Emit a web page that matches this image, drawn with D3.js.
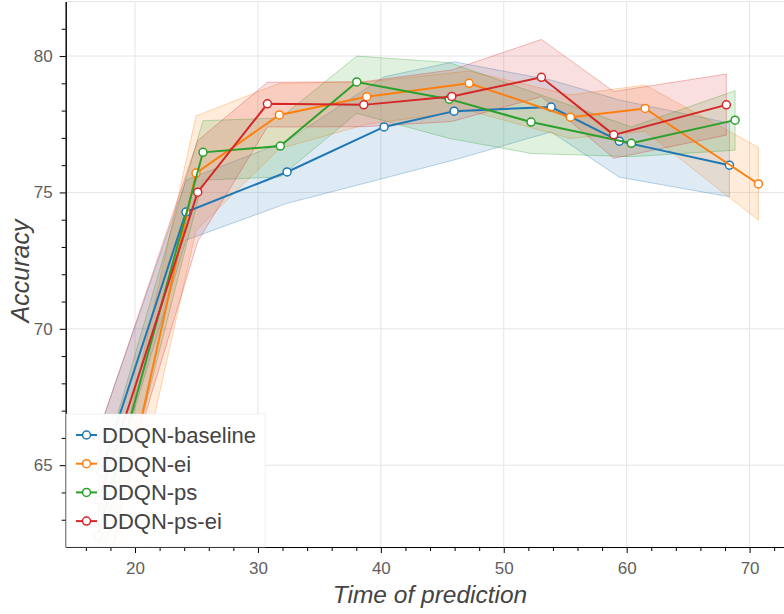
<!DOCTYPE html>
<html>
<head>
<meta charset="utf-8">
<script src="https://cdn.jsdelivr.net/npm/d3@7"></script>
<style>
  body { margin: 0; background: #fff; }
  svg { display: block; font-family: "Liberation Sans", Arial, sans-serif; }
</style>
</head>
<body>
<div id="chart"></div>
<script>
// series: x = time of prediction, y = mean accuracy, lo/hi = band
const names = ["DDQN-baseline", "DDQN-ei", "DDQN-ps", "DDQN-ps-ei"];
const colors = ["#1f77b4", "#ff7f0e", "#2ca02c", "#d62728"];

const baselineX = [17.23, 24.15, 32.37, 40.26, 45.96, 53.85, 59.40, 68.36];
const baselineY = [64.75, 74.28, 75.75, 77.40, 77.98, 78.13, 76.88, 76.00];
const baselineHi = [66.5, 75.45, 76.9, 79.24, 79.79, 79.12, 78.39, 77.54];
const baselineLo = [63.0, 73.25, 74.6, 75.52, 76.19, 77.22, 75.56, 74.84];

const eiX = [17.6, 24.96, 31.74, 38.85, 47.18, 55.42, 61.50, 70.72];
const eiY = [60.8, 75.71, 77.84, 78.51, 79.00, 77.76, 78.08, 75.31];
const eiHi = [62.8, 77.8, 79.0, 79.05, 79.45, 78.57, 78.94, 76.65];
const eiLo = [58.8, 73.6, 76.6, 77.5, 78.0, 76.98, 77.24, 73.98];

const psX = [17.0, 25.53, 31.82, 38.04, 45.57, 52.22, 60.38, 68.82];
const psY = [62.4, 76.47, 76.70, 79.05, 78.42, 77.58, 76.80, 77.65];
const psHi = [64.4, 77.63, 77.73, 80.0, 79.76, 78.7, 77.4, 78.73];
const psLo = [60.4, 75.45, 75.57, 77.9, 76.98, 76.43, 76.31, 76.55];

const psEiX = [17.03, 25.10, 30.77, 38.61, 45.77, 53.06, 58.95, 68.11];
const psEiY = [63.72, 75.01, 78.25, 78.21, 78.52, 79.22, 77.11, 78.21];
const psEiHi = [66.2, 76.9, 79.04, 79.06, 79.49, 80.61, 78.7, 79.34];
const psEiLo = [61.2, 73.2, 77.4, 77.41, 77.6, 78.51, 76.25, 77.1];

const xTicks = [20, 30, 40, 50, 60, 70];
const yTicks = [65, 70, 75, 80];

const series = [
  [baselineX, baselineY, baselineLo, baselineHi],
  [eiX, eiY, eiLo, eiHi],
  [psX, psY, psLo, psHi],
  [psEiX, psEiY, psEiLo, psEiHi]
].map(([xs, ys, lo, hi], k) => ({
  name: names[k],
  color: colors[k],
  values: xs.map((x, i) => ({ x, y: ys[i], lo: lo[i], hi: hi[i] }))
}));

const margin = { top: 1.5, right: 0, bottom: 67, left: 65.7 };
const width = 784 - margin.left - margin.right;
const height = 614 - margin.top - margin.bottom;

const svg = d3.select("#chart").append("svg")
  .attr("width", 784)
  .attr("height", 614);

const g = svg.append("g")
  .attr("transform", `translate(${margin.left},${margin.top})`);

const x = d3.scaleLinear().domain([14.36, 72.8]).range([0, width]);
const y = d3.scaleLinear().domain([62, 82]).range([height, 0]);

// grid
g.append("g")
  .selectAll("line")
  .data(xTicks)
  .join("line")
  .attr("x1", d => x(d)).attr("x2", d => x(d))
  .attr("y1", 0).attr("y2", height)
  .attr("stroke", "#e5e5e5");

g.append("g")
  .selectAll("line")
  .data(yTicks)
  .join("line")
  .attr("x1", 0).attr("x2", width)
  .attr("y1", d => y(d)).attr("y2", d => y(d))
  .attr("stroke", "#e5e5e5");

// frame outline (top)
g.append("line")
  .attr("x1", 0).attr("x2", width)
  .attr("y1", 0).attr("y2", 0)
  .attr("stroke", "#e5e5e5");

g.append("clipPath").attr("id", "clip")
  .append("rect").attr("width", width).attr("height", height);

const plot = g.append("g").attr("clip-path", "url(#clip)");

const band = d3.area()
  .x(d => x(d.x))
  .y0(d => y(d.lo))
  .y1(d => y(d.hi));

const line = d3.line()
  .x(d => x(d.x))
  .y(d => y(d.y));

series.forEach(s => {
  plot.append("path")
    .datum(s.values)
    .attr("fill", s.color)
    .attr("fill-opacity", 0.15)
    .attr("stroke", s.color)
    .attr("stroke-opacity", 0.3)
    .attr("stroke-width", 1)
    .attr("d", band);
});

series.forEach(s => {
  plot.append("path")
    .datum(s.values)
    .attr("fill", "none")
    .attr("stroke", s.color)
    .attr("stroke-width", 2)
    .attr("d", line);

  plot.selectAll(null)
    .data(s.values)
    .join("circle")
    .attr("cx", d => x(d.x))
    .attr("cy", d => y(d.y))
    .attr("r", 4)
    .attr("fill", "#fff")
    .attr("stroke", s.color)
    .attr("stroke-width", 1.5);
});

// axes
const styleAxis = sel => {
  sel.select(".domain").attr("stroke", "#000");
  sel.selectAll(".tick line").attr("stroke", "#000");
  sel.selectAll(".tick text")
    .attr("fill", "#5f5f5f")
    .style("font-size", "17px");
};

const xMinor = d3.range(16, 73, 2).filter(v => !xTicks.includes(v));
const yMinor = d3.range(63, 82, 1).filter(v => !yTicks.includes(v));

g.append("g")
  .attr("transform", `translate(0,${height})`)
  .call(d3.axisBottom(x).tickValues(xMinor).tickSize(4).tickSizeOuter(0).tickFormat(""))
  .call(styleAxis);

g.append("g")
  .attr("transform", `translate(0,${height})`)
  .call(d3.axisBottom(x).tickValues(xTicks).tickSize(6).tickSizeOuter(0).tickPadding(9))
  .call(styleAxis);

g.append("g")
  .call(d3.axisLeft(y).tickValues(yMinor).tickSize(4).tickSizeOuter(0).tickFormat(""))
  .call(styleAxis);

g.append("g")
  .call(d3.axisLeft(y).tickValues(yTicks).tickSize(6).tickSizeOuter(0).tickPadding(7))
  .call(styleAxis);

// axis titles
svg.append("text")
  .attr("x", 430)
  .attr("y", 603)
  .attr("text-anchor", "middle")
  .attr("fill", "#444")
  .style("font-size", "24.5px")
  .style("font-style", "italic")
  .text("Time of prediction");

svg.append("text")
  .attr("transform", "translate(29,271) rotate(-90)")
  .attr("text-anchor", "middle")
  .attr("fill", "#444")
  .style("font-size", "25px")
  .style("font-style", "italic")
  .text("Accuracy");

// legend
const legend = svg.append("g");

legend.append("rect")
  .attr("x", margin.left + 0.5)
  .attr("y", 414)
  .attr("width", 199)
  .attr("height", 547 - 414)
  .attr("fill", "#fff")
  .attr("fill-opacity", 0.95)
  .attr("stroke", "#e5e5e5")
  .attr("stroke-opacity", 0.5);

const items = legend.selectAll("g")
  .data(series)
  .join("g")
  .attr("transform", (d, i) => `translate(0,${435 + i * 28.7})`);

items.append("line")
  .attr("x1", 76).attr("x2", 97)
  .attr("stroke", d => d.color)
  .attr("stroke-width", 2);

items.append("circle")
  .attr("cx", 86.5)
  .attr("r", 4)
  .attr("fill", "#fff")
  .attr("stroke", d => d.color)
  .attr("stroke-width", 1.5);

items.append("text")
  .attr("x", 102)
  .attr("dy", "0.36em")
  .attr("fill", "#444")
  .style("font-size", "22px")
  .text(d => d.name);
</script>
</body>
</html>
